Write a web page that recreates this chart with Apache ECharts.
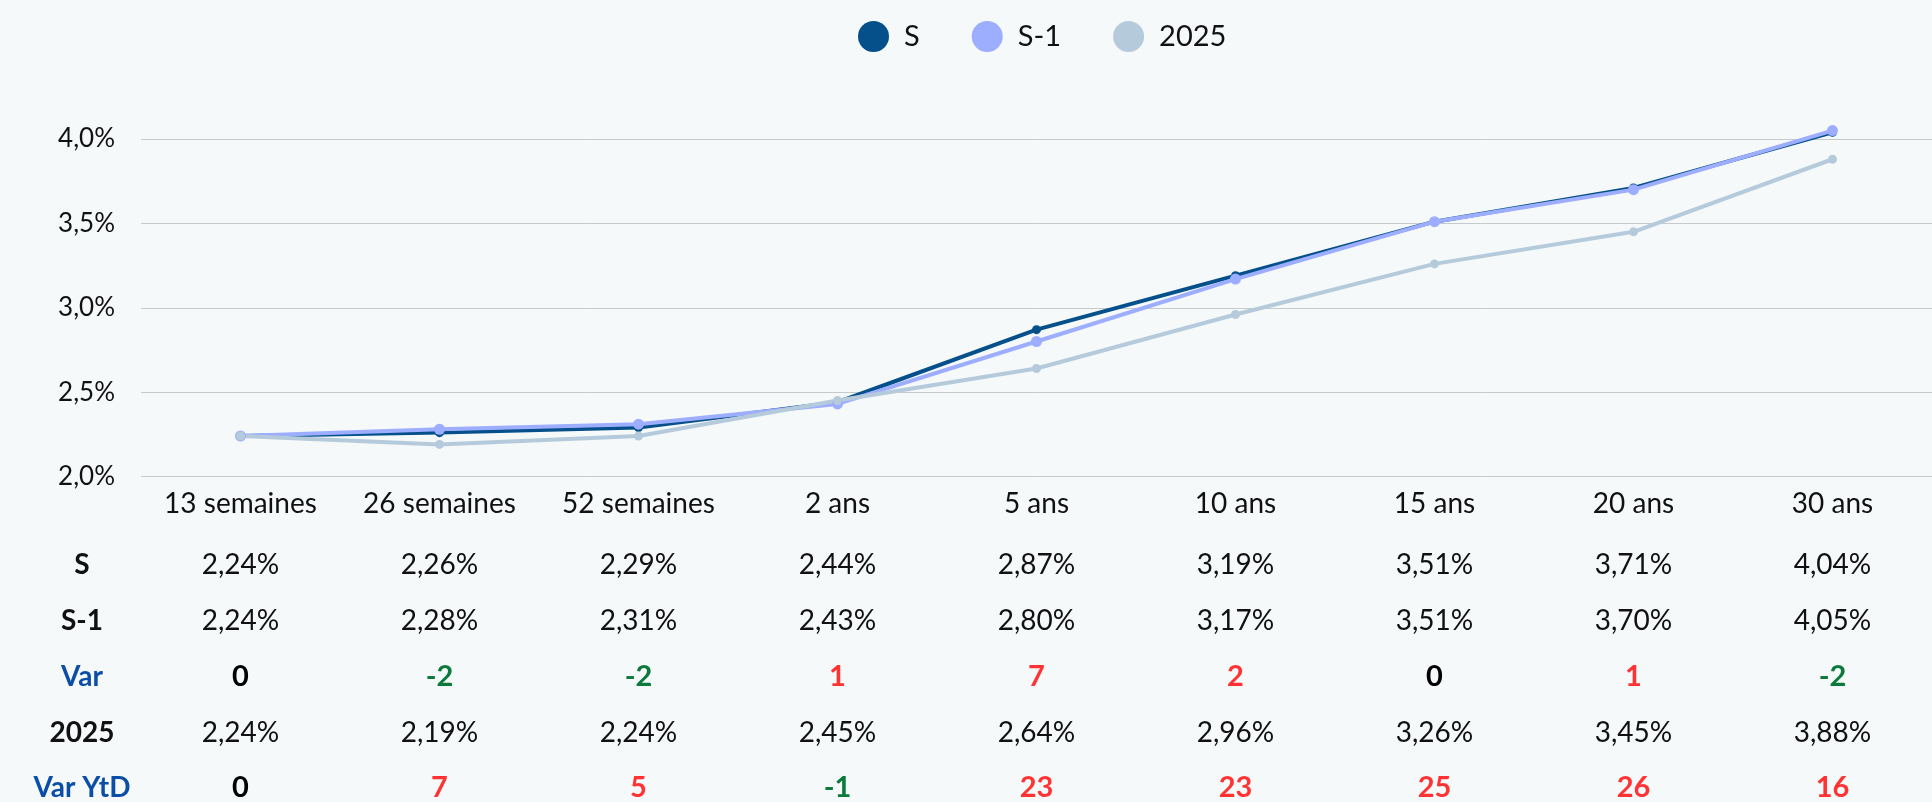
<!DOCTYPE html>
<html lang="fr">

<head>
    <meta charset="utf-8">
    <title>Courbe des taux</title>
    <script src="https://cdn.jsdelivr.net/npm/echarts@6/dist/echarts.min.js"></script>
    <style>
        html, body { margin: 0; padding: 0; background: #f5f9fa; }
        #main { width: 1932px; height: 802px; }
    </style>
</head>

<body>
    <div id="main"></div>
    <script>
        // maturities
        var maturites = ['13 semaines', '26 semaines', '52 semaines', '2 ans', '5 ans', '10 ans', '15 ans', '20 ans', '30 ans'];
        // taux (%)
        var tauxS = [2.24, 2.26, 2.29, 2.44, 2.87, 3.19, 3.51, 3.71, 4.04];
        var tauxS1 = [2.24, 2.28, 2.31, 2.43, 2.80, 3.17, 3.51, 3.70, 4.05];
        var taux2025 = [2.24, 2.19, 2.24, 2.45, 2.64, 2.96, 3.26, 3.45, 3.88];
        // variations (pb)
        var varHebdo = [0, -2, -2, 1, 7, 2, 0, 1, -2];
        var varYtd = [0, 7, 5, -1, 23, 23, 25, 26, 16];

        var FONT = 'Lato, "DejaVu Sans", sans-serif';
        var couleurs = ['#05508a', '#9dadff', '#b5cbdb'];

        function pct(v) { return v.toFixed(2).replace('.', ',') + '%'; }
        function couleurVar(arr) {
            return function (val, idx) {
                var v = arr[idx];
                return v > 0 ? '#ff3333' : (v < 0 ? '#0b7a3b' : '#000000');
            };
        }

        // one hidden axis per table row, stacked under the chart
        function ligne(nom, data, offset, couleurNom, couleurTxt, gras) {
            return {
                type: 'category',
                gridIndex: 0,
                position: 'bottom',
                offset: offset,
                data: data,
                axisLine: { show: false },
                axisTick: { show: false },
                splitLine: { show: false },
                axisLabel: {
                    interval: 0,
                    margin: 0,
                    verticalAlign: 'middle',
                    fontFamily: FONT,
                    fontSize: gras ? 29 : 28,
                    fontWeight: gras ? 'bold' : 'normal',
                    color: couleurTxt
                },
                name: nom,
                nameLocation: 'start',
                nameGap: 59,
                nameTextStyle: {
                    align: 'center',
                    verticalAlign: 'middle',
                    fontFamily: FONT,
                    fontSize: 28,
                    fontWeight: 'bold',
                    color: couleurNom
                }
            };
        }

        var chart = echarts.init(document.getElementById('main'));

        chart.setOption({
            backgroundColor: '#f5f9fa',
            animation: false,
            color: couleurs,
            legend: {
                top: 16,
                left: 853,
                icon: 'circle',
                itemWidth: 31,
                itemHeight: 31,
                itemGap: 52,
                textStyle: { fontFamily: FONT, fontSize: 29, color: '#111', padding: [0, 0, 0, 10] },
                data: ['S', 'S-1', '2025']
            },
            grid: { left: 141, right: -21, top: 139, bottom: 324, containLabel: false },
            xAxis: [
                {
                    type: 'category',
                    data: maturites,
                    axisLine: { show: false },
                    axisTick: { show: false },
                    axisLabel: {
                        interval: 0,
                        margin: 27,
                        verticalAlign: 'middle',
                        fontFamily: FONT,
                        fontSize: 28,
                        color: '#111'
                    }
                },
                ligne('S', tauxS.map(pct), 88, '#111', '#111', false),
                ligne('S-1', tauxS1.map(pct), 144, '#111', '#111', false),
                ligne('Var', varHebdo.map(String), 200, '#0b4ea6', couleurVar(varHebdo), true),
                ligne('2025', taux2025.map(pct), 256, '#111', '#111', false),
                ligne('Var YtD', varYtd.map(String), 311, '#0b4ea6', couleurVar(varYtd), true)
            ],
            yAxis: {
                type: 'value',
                min: 2,
                max: 4,
                interval: 0.5,
                axisLine: { show: false },
                axisTick: { show: false },
                splitLine: { lineStyle: { color: '#c6cacc', width: 1 } },
                axisLabel: {
                    margin: 26,
                    fontFamily: FONT,
                    fontSize: 26,
                    color: '#111',
                    formatter: function (v) { return v.toFixed(1).replace('.', ',') + '%'; }
                }
            },
            series: [
                { name: 'S', type: 'line', data: tauxS, clip: false, symbol: 'circle', symbolSize: 9, lineStyle: { width: 4 } },
                { name: 'S-1', type: 'line', data: tauxS1, clip: false, symbol: 'circle', symbolSize: 11, lineStyle: { width: 4 } },
                { name: '2025', type: 'line', data: taux2025, clip: false, symbol: 'circle', symbolSize: 9, lineStyle: { width: 4 } }
            ]
        });
        window.onresize = chart.resize;
    </script>
</body>

</html>
